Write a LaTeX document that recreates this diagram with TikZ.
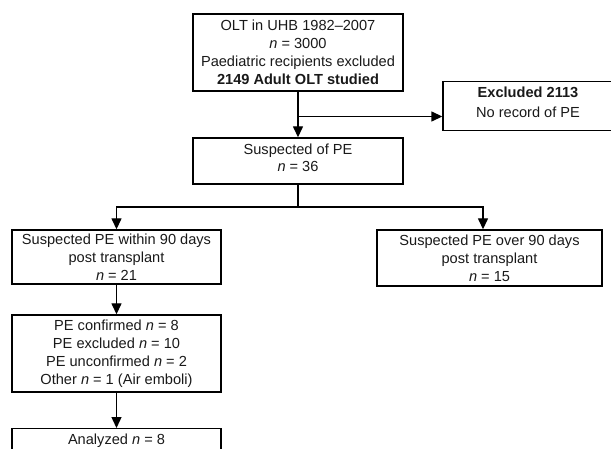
\documentclass[tikz,border=0pt]{standalone}
\usepackage{fontspec}
\setmainfont{Liberation Sans}
\usetikzlibrary{arrows.meta}
\begin{document}
\begin{tikzpicture}[x=1pt,y=-1pt,
  box/.style={draw=black,line width=1.4pt,inner sep=0pt,align=center,
    font=\fontsize{14.6}{18}\selectfont,text=black!90},
  arr/.style={line width=1.4pt,-{Triangle[length=11pt,width=10pt]}},
  ln/.style={line width=1.4pt}]
\useasboundingbox (0,0) rectangle (611,449);
\node[box,minimum width=210pt,minimum height=77pt] (olt) at (298,52.5)
  {OLT in UHB 1982–2007\\\textit{n} = 3000\\Paediatric recipients excluded\\\textbf{2149 Adult OLT studied}};
\node[box,minimum width=170pt,minimum height=49pt,text depth=7.5pt] (excl) at (528,106)
  {\textbf{Excluded 2113}\\[1.5pt]No record of PE};
\node[box,minimum width=210pt,minimum height=46pt,text depth=6pt] (susp) at (298,161)
  {Suspected of PE\\[-1pt]\textit{n} = 36};
\node[box,minimum width=209pt,minimum height=54pt] (within) at (116.5,257)
  {Suspected PE within 90 days\\post transplant\\\textit{n} = 21};
\node[box,minimum width=225pt,minimum height=56pt] (over) at (489.5,258)
  {Suspected PE over 90 days\\post transplant\\\textit{n} = 15};
\node[box,minimum width=209pt,minimum height=77pt] (conf) at (116.5,353.5)
  {PE confirmed \textit{n} = 8\\PE excluded \textit{n} = 10\\PE unconfirmed \textit{n} = 2\\Other \textit{n} = 1 (Air emboli)};
\node[box,minimum width=209pt,anchor=north,inner ysep=5pt,text depth=14pt] (anal) at (116.5,428)
  {Analyzed \textit{n} = 8};
\coordinate (br) at (298,116.5);
\coordinate (sp) at (298,207);
\coordinate (rt) at (483,207);
\draw[arr] (olt.south) -- (susp.north);
\draw[arr] (br) -- (br -| excl.west);
\draw[ln] (susp.south) -- (sp);
\draw[arr] (sp) -| (within.north);
\draw[arr] (sp) -- (rt) -- (rt |- over.north);
\draw[arr] (within.south) -- (conf.north);
\draw[arr] (conf.south) -- (anal.north);
\end{tikzpicture}
\end{document}
